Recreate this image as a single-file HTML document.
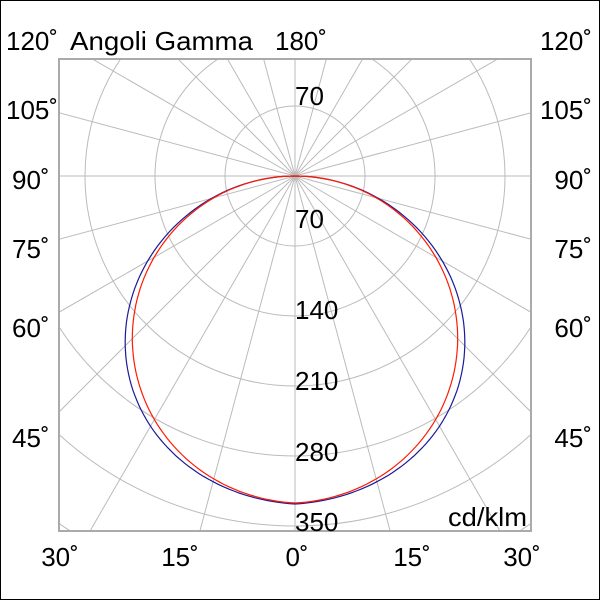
<!DOCTYPE html>
<html><head><meta charset="utf-8"><style>
html,body{margin:0;padding:0;background:#fff;width:600px;height:600px;overflow:hidden}
svg{display:block}
text{font-family:"Liberation Sans",Arial,sans-serif;font-size:26px;fill:#000}
</style></head><body>
<svg id="s" width="600" height="600" viewBox="0 0 600 600">
<rect x="0.5" y="0.5" width="599" height="599" fill="#fff" stroke="#000" stroke-width="1"/>
<defs><clipPath id="c"><rect x="59" y="59" width="472" height="472"/></clipPath></defs>
<g id="grid" clip-path="url(#c)" stroke="#bbb" stroke-width="1" fill="none"></g>
<rect x="59" y="59" width="472" height="472" fill="none" stroke="#aaa" stroke-width="2"/>
<g clip-path="url(#c)" fill="none" stroke-width="1.2">
<path id="blue" stroke="#1a1a9a"/>
<path id="red" stroke="#ff1a00"/>
</g>
<text x="6" y="50">120˚</text>
<text x="70" y="50" textLength="183" lengthAdjust="spacingAndGlyphs">Angoli Gamma</text>
<text x="275" y="50">180˚</text>
<text x="592" y="50" text-anchor="end">120˚</text>
<text x="6" y="119">105˚</text><text x="592" y="119" text-anchor="end">105˚</text>
<text x="12" y="189">90˚</text><text x="592" y="189" text-anchor="end">90˚</text>
<text x="12" y="258">75˚</text><text x="592" y="258" text-anchor="end">75˚</text>
<text x="12" y="337">60˚</text><text x="592" y="337" text-anchor="end">60˚</text>
<text x="12" y="447">45˚</text><text x="592" y="447" text-anchor="end">45˚</text>
<text x="60" y="566" text-anchor="middle">30˚</text>
<text x="180" y="566" text-anchor="middle">15˚</text>
<text x="297" y="566" text-anchor="middle">0˚</text>
<text x="412" y="566" text-anchor="middle">15˚</text>
<text x="522" y="566" text-anchor="middle">30˚</text>
<text x="295" y="105">70</text>
<text x="295" y="228">70</text>
<text x="295" y="319">140</text>
<text x="295" y="390">210</text>
<text x="295" y="461">280</text>
<text x="295" y="531">350</text>
<text x="448" y="526" textLength="79" lengthAdjust="spacingAndGlyphs">cd/klm</text>
</svg>
<script>
var cx=295,cy=176,ns="http://www.w3.org/2000/svg",g=document.getElementById('grid');
for(var r=70;r<=700;r+=70){var c=document.createElementNS(ns,'circle');c.setAttribute('cx',cx);c.setAttribute('cy',cy);c.setAttribute('r',r);g.appendChild(c);}
for(var a=0;a<360;a+=15){var t=a*Math.PI/180,l=document.createElementNS(ns,'line');l.setAttribute('x1',cx);l.setAttribute('y1',cy);l.setAttribute('x2',cx+800*Math.sin(t));l.setAttribute('y2',cy+800*Math.cos(t));g.appendChild(l);}
function path(f){var d='';for(var a=-90;a<=90;a+=1){var t=a*Math.PI/180,r=Math.max(0,f(Math.abs(t)));d+=(d?'L':'M')+(cx+r*Math.sin(t)).toFixed(1)+' '+(cy+r*Math.cos(t)).toFixed(1);}return d;}
document.getElementById('blue').setAttribute('d',path(function(t){return 322*Math.cos(t)+6*Math.exp(-t/0.3)+12*Math.pow(Math.sin(2*t),2);}));
document.getElementById('red').setAttribute('d',path(function(t){return 322*Math.cos(t)+5*Math.exp(-t/0.3)+2*Math.pow(Math.sin(2*t),2);}));
</script>
</body></html>
